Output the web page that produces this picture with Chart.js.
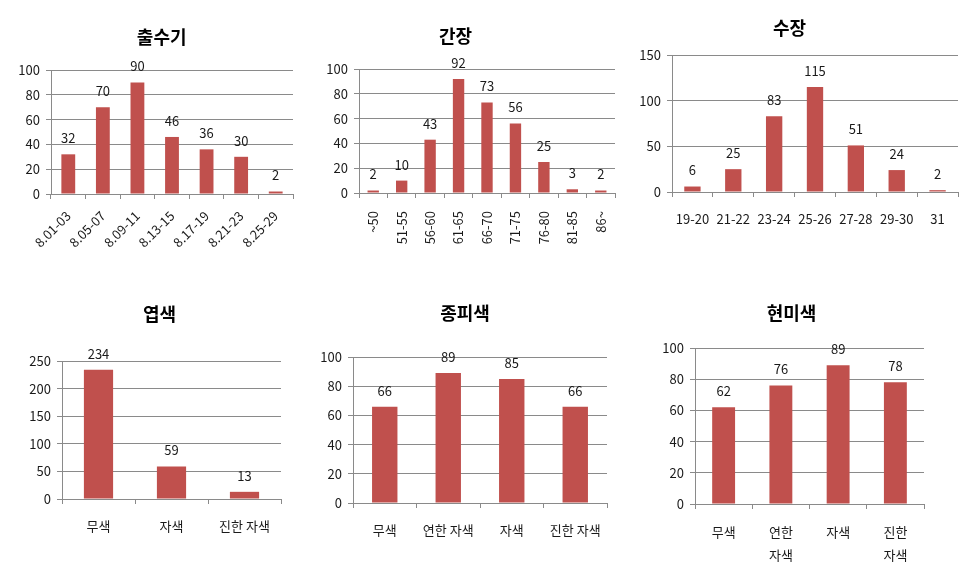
<!DOCTYPE html>
<html><head><meta charset="utf-8">
<script src="https://cdn.jsdelivr.net/npm/chart.js@4"></script>
<style>
html,body{margin:0;padding:0;background:#fff;width:962px;height:580px;overflow:hidden}
canvas{position:absolute;left:0;top:0}
</style></head><body>
<canvas id="c1" width="962" height="580"></canvas>
<canvas id="c2" width="962" height="580"></canvas>
<canvas id="c3" width="962" height="580"></canvas>
<canvas id="c4" width="962" height="580"></canvas>
<canvas id="c5" width="962" height="580"></canvas>
<canvas id="c6" width="962" height="580"></canvas>
<script>
// ---- data ----
const headingTitle = '출수기';
const headingCats = ['8.01-03','8.05-07','8.09-11','8.13-15','8.17-19','8.21-23','8.25-29'];
const headingVals = [32,70,90,46,36,30,2];

const culmTitle = '간장';
const culmCats = ['~50','51-55','56-60','61-65','66-70','71-75','76-80','81-85','86~'];
const culmVals = [2,10,43,92,73,56,25,3,2];

const panicleTitle = '수장';
const panicleCats = ['19-20','21-22','23-24','25-26','27-28','29-30','31'];
const panicleVals = [6,25,83,115,51,24,2];

const leafTitle = '엽색';
const leafCats = ['무색','자색','진한 자색'];
const leafVals = [234,59,13];

const seedTitle = '종피색';
const seedCats = ['무색','연한 자색','자색','진한 자색'];
const seedVals = [66,89,85,66];

const riceTitle = '현미색';
const riceCats = [['무색'],['연한','자색'],['자색'],['진한','자색']];
const riceVals = [62,76,89,78];

const yMaxes = [100,100,150,250,100,100];
const ySteps = [20,20,50,50,20,20];

// ---- drawing ----
const W = 962, H = 580;
const FONT = '"Noto Sans CJK KR", "Noto Sans", sans-serif';
const GRID = '#8a8a8a';
const TXT = '#1a1a1a';
const BAR = '#C0504D';
Chart.defaults.font.family = FONT;

const valueLabels = {
  id: 'valueLabels',
  afterDatasetsDraw(chart) {
    const ctx = chart.ctx;
    const meta = chart.getDatasetMeta(0);
    const data = chart.data.datasets[0].data;
    ctx.save();
    ctx.font = '13px ' + FONT;
    ctx.fillStyle = TXT;
    ctx.textAlign = 'center';
    ctx.textBaseline = 'middle';
    meta.data.forEach((bar, i) => ctx.fillText(String(data[i]), bar.x, bar.y - 16));
    ctx.restore();
  }
};

function makeChart(id, title, cats, vals, yMax, yStep, g) {
  const f = 18;
  const padL = Math.min(2 * g.tx - g.R, g.L - 45);
  const spacer = Math.max(0, 2 * g.tx - padL - g.R);
  const padR = W - g.R - spacer;
  const padTop = g.ty - 0.6 * f;
  const titleBottom = g.T - padTop - 1.2 * f;
  new Chart(document.getElementById(id), {
    type: 'bar',
    data: { labels: cats, datasets: [{ data: vals, backgroundColor: BAR, barPercentage: 0.4, categoryPercentage: 1 }] },
    options: {
      responsive: false, animation: false, events: [],
      layout: { padding: { left: padL, right: padR, top: padTop, bottom: 0 } },
      plugins: {
        legend: { display: false }, tooltip: { enabled: false },
        title: { display: true, text: title, color: '#000', font: { size: f, weight: 'bold', family: FONT },
                 padding: { top: 0, bottom: titleBottom } }
      },
      scales: {
        x: {
          afterFit(s) { s.height = H - g.B; },
          grid: { display: true, drawOnChartArea: false, drawTicks: true, tickLength: 5, color: GRID, offset: true },
          border: { display: true, color: GRID },
          ticks: { autoSkip: false, minRotation: g.rot, maxRotation: g.rot, padding: g.xpad, color: TXT,
                   font: { size: 13, family: FONT, lineHeight: g.lh || 1.2 } }
        },
        y: {
          min: 0, max: yMax,
          afterFit(s) { s.width = g.L - padL; },
          grid: { color: GRID, tickLength: 5, drawTicks: true },
          border: { display: true, color: GRID },
          ticks: { stepSize: yStep, padding: 6, color: TXT, font: { size: 13, family: FONT } }
        },
        spacer: {
          type: 'linear', position: 'right', display: true,
          afterFit(s) { s.width = spacer; },
          grid: { display: false, drawTicks: false }, border: { display: false },
          ticks: { display: false }
        }
      }
    },
    plugins: [valueLabels]
  });
}

makeChart('c1', headingTitle, headingCats, headingVals, yMaxes[0], ySteps[0], { L: 51, T: 70, R: 293, B: 194, tx: 161.7, ty: 37, rot: 45, xpad: 9 });
makeChart('c2', culmTitle, culmCats, culmVals, yMaxes[1], ySteps[1], { L: 359, T: 69, R: 615, B: 193, tx: 455.5, ty: 36, rot: 90, xpad: 13 });
makeChart('c3', panicleTitle, panicleCats, panicleVals, yMaxes[2], ySteps[2], { L: 672, T: 55, R: 958, B: 192, tx: 789.5, ty: 28.5, rot: 0, xpad: 14 });
makeChart('c4', leafTitle, leafCats, leafVals, yMaxes[3], ySteps[3], { L: 62, T: 361, R: 281, B: 499, tx: 159.5, ty: 314, rot: 0, xpad: 14 });
makeChart('c5', seedTitle, seedCats, seedVals, yMaxes[4], ySteps[4], { L: 353, T: 357, R: 607, B: 503, tx: 465, ty: 313, rot: 0, xpad: 14 });
makeChart('c6', riceTitle, riceCats, riceVals, yMaxes[5], ySteps[5], { L: 695, T: 348, R: 924, B: 504, tx: 791.5, ty: 313, rot: 0, xpad: 12, lh: 1.75 });
</script>
</body></html>
